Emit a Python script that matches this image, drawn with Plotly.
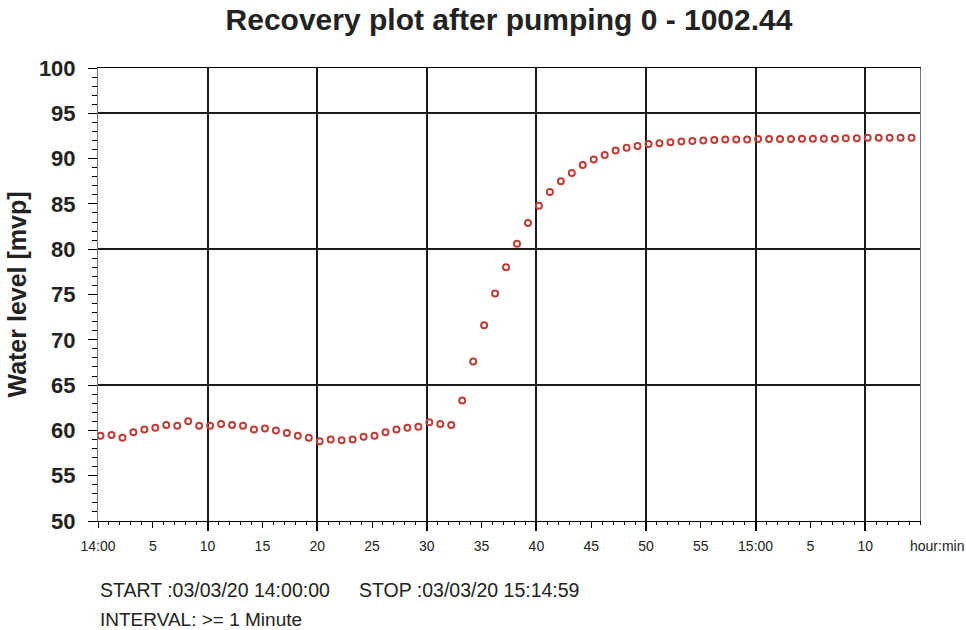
import plotly.graph_objects as go

# Sample times: minutes elapsed since 14:00 (one reading per minute, taken ~14 s into the minute)
sample_minute = list(range(75))
sample_offset_min = 0.23

# Water level readings [mvp]
water_level = [
    59.4, 59.5, 59.2, 59.8, 60.1, 60.3, 60.6, 60.5, 61.0, 60.5,
    60.5, 60.7, 60.6, 60.5, 60.1, 60.2, 60.0, 59.7, 59.4, 59.2,
    58.8, 59.0, 58.9, 59.0, 59.3, 59.4, 59.8, 60.1, 60.3, 60.4,
    60.9, 60.7, 60.6, 63.3, 67.6, 71.6, 75.1, 78.0, 80.6, 82.9,
    84.8, 86.3, 87.5, 88.4, 89.3, 89.9, 90.4, 90.9, 91.2, 91.4,
    91.6, 91.7, 91.8, 91.9, 91.95, 92.0, 92.05, 92.1, 92.1, 92.1,
    92.15, 92.15, 92.15, 92.15, 92.2, 92.2, 92.2, 92.2, 92.25, 92.25,
    92.3, 92.3, 92.3, 92.3, 92.3,
]

x_tick_vals = [0, 5, 10, 15, 20, 25, 30, 35, 40, 45, 50, 55, 60, 65, 70]
x_tick_text = ["14:00", "5", "10", "15", "20", "25", "30", "35", "40", "45",
               "50", "55", "15:00", "5", "10"]
x_grid_vals = [10, 20, 30, 40, 50, 60, 70]
y_grid_vals = [65, 80, 95]

x_range = [0, 75]
y_range = [50, 100]

FONT = "Liberation Sans, Arial, sans-serif"
DARK = "#222222"
RED = "#bf3c37"
GRID = "#1a1a1a"

time_min = [m + sample_offset_min for m in sample_minute]

fig = go.Figure()
# empty trace that registers the overlay axes carrying the coarse grid
fig.add_trace(go.Scatter(x=[], y=[], xaxis="x2", yaxis="y2", mode="markers",
                         showlegend=False, hoverinfo="skip"))
fig.add_trace(go.Scatter(
    x=time_min, y=water_level, mode="markers",
    marker=dict(symbol="circle-open", size=6, color=RED, line=dict(width=2, color=RED)),
    showlegend=False, hoverinfo="skip",
))

fig.update_layout(
    width=966, height=630,
    margin=dict(l=98, r=46, t=68, b=109),
    paper_bgcolor="white", plot_bgcolor="white",
    font=dict(family=FONT, color=DARK),
    title=dict(
        text="Recovery plot after pumping 0 - 1002.44",
        x=0.5, xref="paper", xanchor="center",
        y=1 - 19 / 630, yref="container", yanchor="middle",
        font=dict(family=FONT, size=30, weight="bold", color=DARK),
    ),
    xaxis=dict(
        range=x_range, tickmode="array", tickvals=x_tick_vals, ticktext=x_tick_text,
        ticks="outside", ticklen=6, tickwidth=1, tickcolor="black",
        minor=dict(tickmode="linear", tick0=0, dtick=1, ticks="outside",
                   ticklen=3, tickwidth=1, tickcolor="black", showgrid=False),
        showline=True, linecolor="black", linewidth=1, mirror=True,
        showgrid=False, zeroline=False,
        tickfont=dict(family=FONT, size=14, color=DARK),
        ticklabelstandoff=6,
    ),
    xaxis2=dict(
        overlaying="x", anchor="y2", side="bottom",
        range=x_range, tickmode="array", tickvals=x_grid_vals,
        showticklabels=False, ticks="outside", ticklen=9, tickwidth=2, tickcolor="black",
        showgrid=True, gridcolor=GRID, gridwidth=2,
        showline=False, zeroline=False,
    ),
    yaxis=dict(
        range=y_range, tickmode="linear", tick0=50, dtick=5,
        ticks="outside", ticklen=9, tickwidth=1, tickcolor="black",
        minor=dict(tickmode="linear", tick0=50, dtick=1, ticks="outside",
                   ticklen=5, tickwidth=1, tickcolor="black", showgrid=False),
        showline=True, linecolor="#777777", linewidth=1, mirror=True,
        showgrid=False, zeroline=False,
        tickfont=dict(family=FONT, size=22, weight="bold", color=DARK),
        ticklabelstandoff=8,
        title=dict(text="Water level [mvp]", standoff=5,
                   font=dict(family=FONT, size=25, weight="bold", color=DARK)),
    ),
    yaxis2=dict(
        overlaying="y", anchor="x2", side="left",
        range=y_range, tickmode="array", tickvals=y_grid_vals,
        showticklabels=False, ticks="",
        showgrid=True, gridcolor=GRID, gridwidth=2,
        showline=False, zeroline=False,
    ),
)

fig.add_annotation(text="hour:min", xref="paper", yref="paper",
                   x=0.985, y=-0.055, xanchor="left", yanchor="middle",
                   showarrow=False, font=dict(family=FONT, size=14, color=DARK))
fig.add_annotation(text="START :03/03/20 14:00:00", xref="paper", yref="paper",
                   x=0.0, y=-0.152, xanchor="left", yanchor="middle",
                   showarrow=False, font=dict(family=FONT, size=19.5, color=DARK))
fig.add_annotation(text="STOP :03/03/20 15:14:59", xref="paper", yref="paper",
                   x=0.315, y=-0.152, xanchor="left", yanchor="middle",
                   showarrow=False, font=dict(family=FONT, size=19.5, color=DARK))
fig.add_annotation(text="INTERVAL: >= 1 Minute", xref="paper", yref="paper",
                   x=0.0, y=-0.217, xanchor="left", yanchor="middle",
                   showarrow=False, font=dict(family=FONT, size=19, color=DARK))

fig.write_html("out.html", config={"displayModeBar": False},
               post_script="document.body.style.margin='0';")
